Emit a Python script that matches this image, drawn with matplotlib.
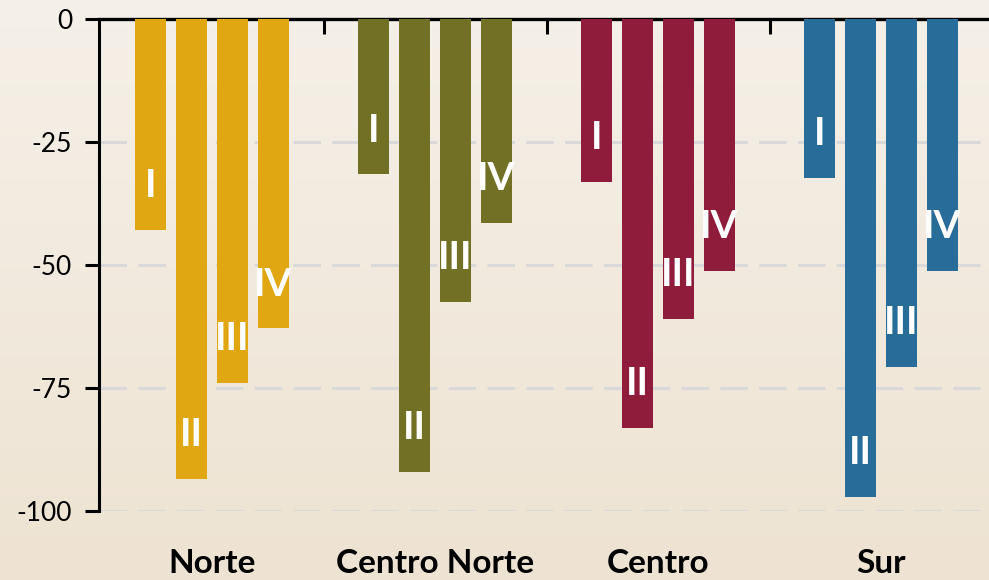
import matplotlib
matplotlib.use('Agg')
import matplotlib.pyplot as plt
import numpy as np

plt.rcParams['font.family'] = ['Lato', 'DejaVu Sans']
plt.rcParams['axes.unicode_minus'] = False

regions = ['Norte', 'Centro Norte', 'Centro', 'Sur']
quarters = ['I', 'II', 'III', 'IV']
norte = [-42.9, -93.5, -74.0, -62.9]
centro_norte = [-31.6, -92.1, -57.5, -41.4]
centro = [-33.1, -83.1, -61.0, -51.2]
sur = [-32.3, -97.1, -70.7, -51.2]
colors = ['#E0A713', '#727025', '#8E1C3A', '#286C9A']
y_ticks = [0, -25, -50, -75, -100]

series = [norte, centro_norte, centro, sur]

fig = plt.figure(figsize=(9.89, 5.80), dpi=100)

# background gradient, light at the top
bg = fig.add_axes((0, 0, 1, 1), zorder=-10)
grad = np.linspace(0, 1, 256).reshape(-1, 1)
top_c = np.array([245, 240, 232]) / 255
bot_c = np.array([238, 227, 210]) / 255
img = top_c[None, None, :] * (1 - grad[:, :, None]) + bot_c[None, None, :] * grad[:, :, None]
bg.imshow(img, aspect='auto', extent=(0, 1, 0, 1))
bg.axis('off')

ax = fig.add_axes((98.5 / 989, 69 / 580, 890.5 / 989, 492 / 580))
ax.set_facecolor('none')

step = 0.1839
width = 0.139
offsets = (np.arange(4) - 1.5) * step
label_gap = 9

for gi, vals in enumerate(series):
    xs = gi + offsets
    ax.bar(xs, vals, width=width, color=colors[gi], zorder=3)
    for x, v, q in zip(xs, vals, quarters):
        ax.text(x, v + label_gap, q, ha='center', va='center', color='white',
                fontsize=28, fontweight='bold', zorder=4)

ax.set_xlim(-0.509, 3.484)
ax.set_ylim(-100, 0)

ax.set_yticks(y_ticks)
ax.set_yticklabels([f'{v}' for v in y_ticks])
ax.tick_params(axis='y', length=10, width=2.2, labelsize=19, pad=9, colors='black')
for t in y_ticks[1:]:
    ax.axhline(t, color='#D9D9D9', linewidth=2.2, dashes=(9, 3.7), zorder=1)

ax.set_xticks([])
ax.set_xticks([0.5, 1.5, 2.5], minor=True)
ax.tick_params(axis='x', which='minor', bottom=False, top=True, direction='in',
               length=11, width=2.2, colors='black')

for gi, name in enumerate(regions):
    ax.text(gi, -0.126, name, transform=ax.get_xaxis_transform(), ha='center',
            va='baseline', fontsize=24, fontweight='bold', color='black')

for s in ['right', 'bottom']:
    ax.spines[s].set_visible(False)
ax.spines['top'].set_linewidth(2.4)
ax.spines['left'].set_linewidth(2.2)

fig.savefig('out.png', dpi=100)
